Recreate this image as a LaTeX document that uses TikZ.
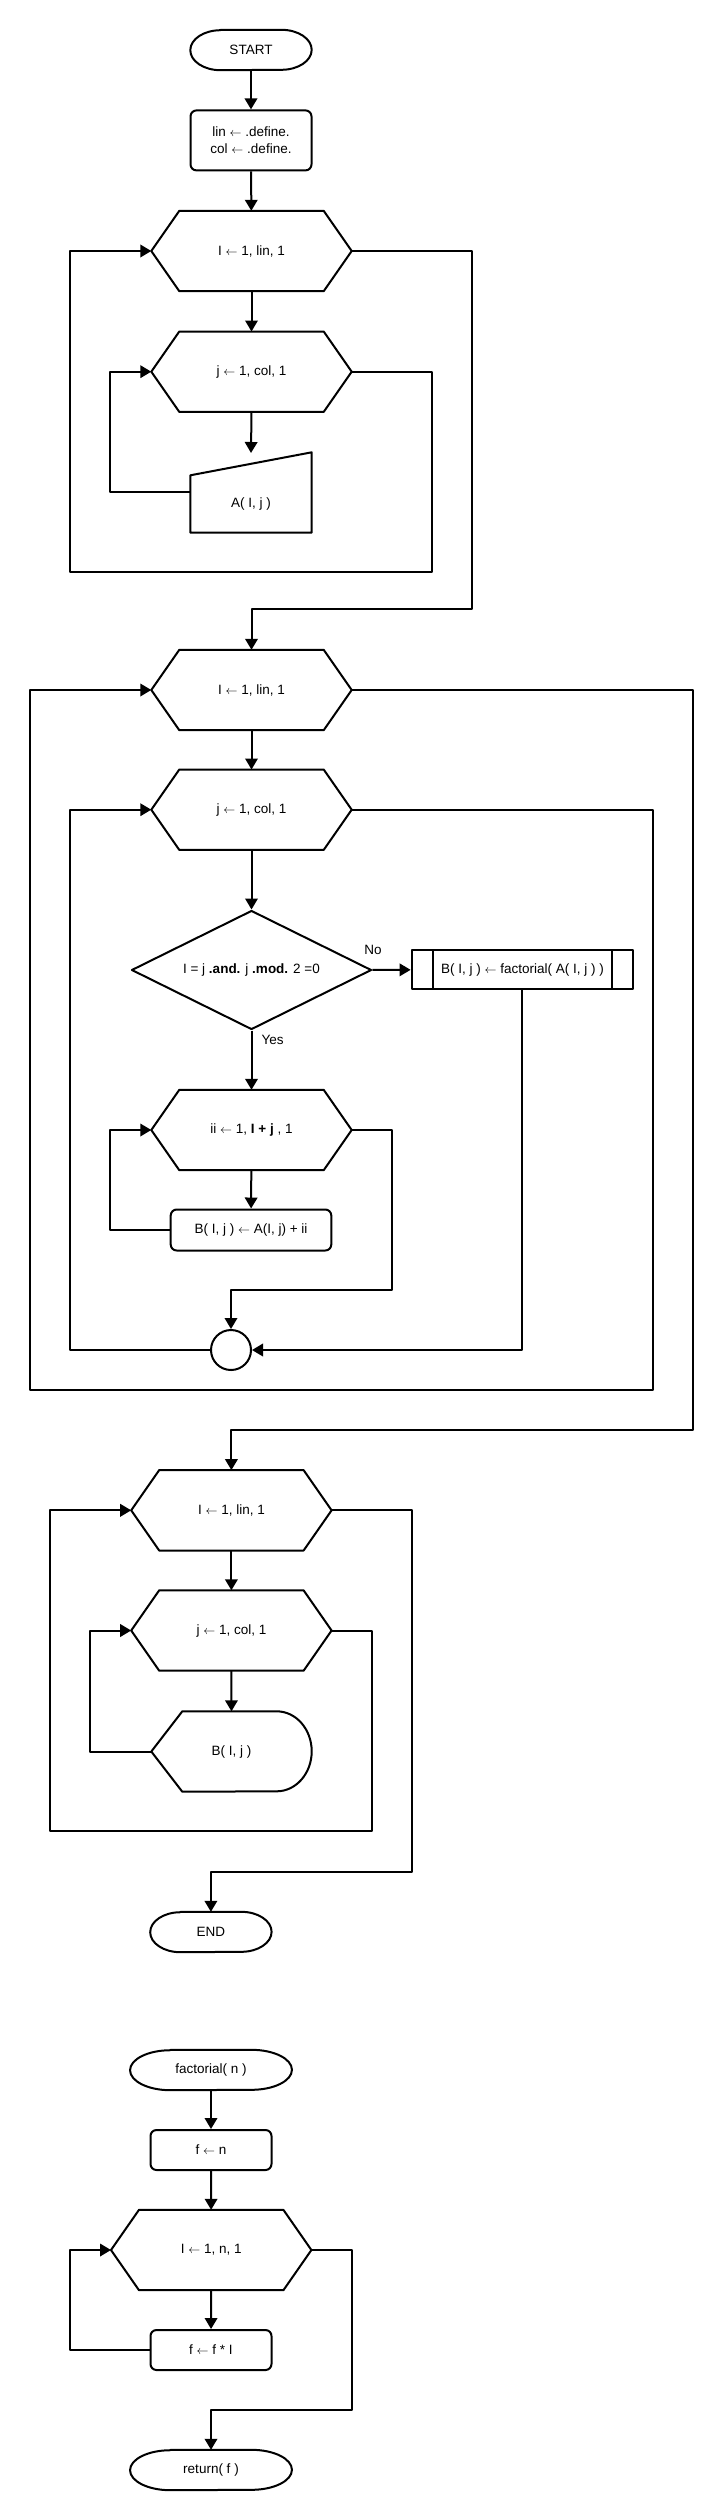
\documentclass[tikz,border=0pt]{standalone}
\usepackage{fontspec}
\setmainfont{Liberation Sans}
\usetikzlibrary{arrows.meta,calc,shapes.geometric}

% assignment arrow
\newcommand{\larr}{{\fontsize{12}{14}\selectfont$\leftarrow$}}

% loop box: a hexagon drawn round a plain node
\newcommand{\loopnode}[3]{%
  \node[hexbox] (#1) at (#2) {#3};
  \draw[shapeline] (#1.west) -- ($(#1.north west)+(28,0)$) -- ($(#1.north east)+(-28,0)$)
    -- (#1.east) -- ($(#1.south east)+(-28,0)$) -- ($(#1.south west)+(28,0)$) -- cycle;
}
% terminal: flat top and bottom, elliptic ends
\newcommand{\termnode}[4]{%
  \node[termbox, minimum width=#3pt] (#1) at (#2) {#4};
  \pgfmathsetmacro\capr{#3/4}
  \draw[shapeline] ($(#1.north west)+(\capr,0)$) -- ($(#1.north east)+(-\capr,0)$)
    arc[start angle=90, end angle=-90, x radius=\capr pt, y radius=20pt]
    -- ($(#1.south west)+(\capr,0)$)
    arc[start angle=270, end angle=90, x radius=\capr pt, y radius=20pt] -- cycle;
}

\begin{document}
\begin{tikzpicture}[x=1pt, y=-1pt,
  txt/.style={font=\fontsize{13.5}{17}\selectfont},
  shapeline/.style={line width=2pt, line join=round},
  termbox/.style={txt, minimum height=40pt, inner sep=0pt},
  proc/.style={txt, draw, shapeline, rounded corners=6pt, minimum width=121pt, minimum height=40pt},
  hexbox/.style={txt, minimum width=200pt, minimum height=80pt, inner sep=0pt},
  flow/.style={shapeline, -{Triangle[length=11pt,width=12.5pt]}}]
  \useasboundingbox (0,0) rectangle (720,2520);

  % read A
  \termnode{start}{251,50}{121}{START}
  \node[proc, minimum height=60pt, align=center] (init) at (251,140.4) {lin \larr{} .define.\\col \larr{} .define.};
  \loopnode{L-1}{251.5,251}{I \larr{} 1, lin, 1}
  \loopnode{L-2}{251.5,371.7}{j \larr{} 1, col, 1}
  \node[txt, minimum width=121pt, minimum height=57pt, inner sep=0pt] (readA) at (251,504) {A( I, j )};
  \draw[shapeline] (readA.south west) -- (readA.south east) -- ($(readA.north east)+(0,-23)$)
    -- (readA.north west) -- cycle;
  \coordinate (readA-top) at (251,453);
  \coordinate (readA-out) at (190.5,492);
  \draw[flow] (start) -- (init);
  \draw[flow] (init) -- (L-1);
  \draw[flow] (L-1) -- (L-2);
  \draw[flow] (L-2.south) -- (readA-top);
  \draw[flow] (readA-out) -- (110,492) |- (L-2.west);
  \draw[flow] (L-2.east) -- (432,371.7) |- (70,572) |- (L-1.west);

  % compute B
  \loopnode{L-3}{251.5,690}{I \larr{} 1, lin, 1}
  \loopnode{L-4}{251.5,809.7}{j \larr{} 1, col, 1}
  \node[txt, draw, shapeline, diamond, aspect=2, minimum width=240pt, minimum height=119pt, inner sep=0pt] (test) at (251.5,970)
    {I = j \textbf{.and.} j \textbf{.mod.} 2 =0};
  \node[txt] (no) at (373,950) {No};
  \node[txt] (yes) at (272.6,1040) {Yes};
  \node[txt, draw, shapeline, minimum width=221.6pt, minimum height=39.3pt] (callF) at (522.4,969.7)
    {B( I, j ) \larr{} factorial( A( I, j ) )};
  \draw[shapeline] ($(callF.north west)+(22,0)$) -- ($(callF.south west)+(22,0)$);
  \draw[shapeline] ($(callF.north east)+(-22,0)$) -- ($(callF.south east)+(-22,0)$);
  \loopnode{L-5}{251.5,1130}{ii \larr{} 1, \textbf{I + j} , 1}
  \node[proc, minimum width=160.6pt, minimum height=41pt] (addB) at (251,1230) {B( I, j ) \larr{} A(I, j) + ii};
  \node[draw, shapeline, circle, minimum size=40pt, inner sep=0pt] (join) at (231,1350) {};
  \draw[flow] (L-1.east) -| (472,609) -| (L-3.north);
  \draw[flow] (L-3) -- (L-4);
  \draw[flow] (L-4) -- (test);
  \draw[flow] (test) -- (callF);
  \draw[flow] (test) -- (L-5);
  \draw[flow] (L-5) -- (addB);
  \draw[flow] (addB.west) -- (110,1230) |- (L-5.west);
  \draw[flow] (L-5.east) -| (392,1290) -| (join.north);
  \draw[flow] (callF.south) |- (join.east);
  \draw[flow] (join.west) -| (70,809.7) -- (L-4.west);
  \draw[flow] (L-4.east) -| (653,1389.7) -| (30,690) -- (L-3.west);

  % show B
  \loopnode{L-6}{231.4,1510.3}{I \larr{} 1, lin, 1}
  \loopnode{L-7}{231.4,1630.5}{j \larr{} 1, col, 1}
  \node[txt, minimum width=160pt, minimum height=80pt, inner sep=0pt] (showB) at (231.5,1751.5) {B( I, j )};
  \draw[shapeline] (showB.west) -- ($(showB.north west)+(31,0)$) -- ($(showB.north east)+(-35,0)$)
    arc[start angle=90, end angle=-90, x radius=35pt, y radius=40pt] -- ($(showB.south west)+(31,0)$) -- cycle;
  \termnode{stop}{210.9,1932}{121}{END}
  \draw[flow] (L-3.east) -| (693,1430) -| (L-6.north);
  \draw[flow] (L-6) -- (L-7);
  \draw[flow] (L-7) -- (showB);
  \draw[flow] (showB.west) -- (90,1751.5) |- (L-7.west);
  \draw[flow] (L-7.east) -| (372,1831.2) -| (49.8,1510.3) -- (L-6.west);
  \draw[flow] (L-6.east) -| (411.6,1871.7) -| (stop.north);

  % factorial
  \termnode{fact}{211,2070}{161.5}{factorial( n )}
  \node[proc] (fInit) at (211,2150) {f \larr{} n};
  \loopnode{L-8}{211.2,2250}{I \larr{} 1, n, 1}
  \node[proc] (fMul) at (211,2350) {f \larr{} f * I};
  \termnode{ret}{211,2470}{161.5}{return( f )}
  \draw[flow] (fact) -- (fInit);
  \draw[flow] (fInit) -- (L-8);
  \draw[flow] (L-8) -- (fMul);
  \draw[flow] (fMul.west) -- (70,2350) |- (L-8.west);
  \draw[flow] (L-8.east) -| (351.6,2410) -| (ret.north);
\end{tikzpicture}
\end{document}
